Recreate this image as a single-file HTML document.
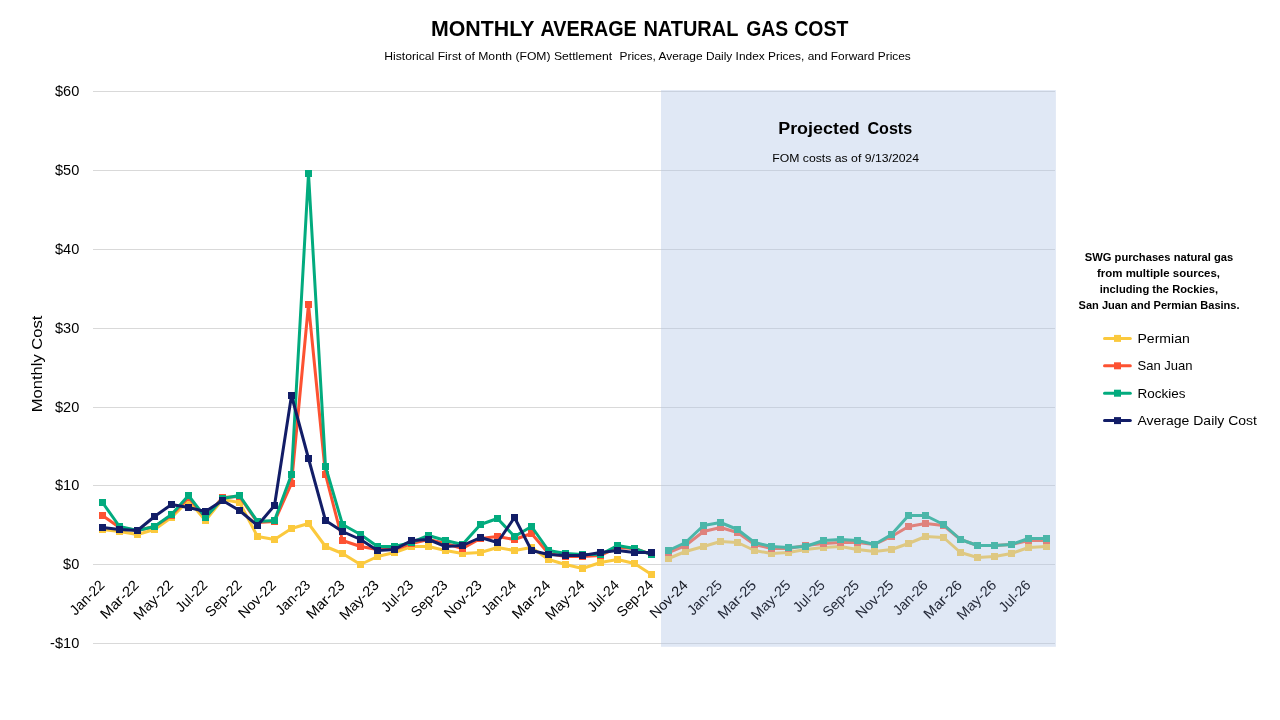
<!DOCTYPE html>
<html lang="en"><head><meta charset="utf-8"><title>Monthly Average Natural Gas Cost</title>
<style>html,body{margin:0;padding:0;background:#fff;width:1280px;height:720px;overflow:hidden}svg text{white-space:pre;font-family:"Liberation Sans",sans-serif}</style></head>
<body>
<svg width="1280" height="720" viewBox="0 0 1280 720" style="display:block">
<rect width="1280" height="720" fill="#fff"/>
<rect x="93" y="91" width="962" height="1" fill="#D9D9D9"/>
<rect x="93" y="170" width="962" height="1" fill="#D9D9D9"/>
<rect x="93" y="249" width="962" height="1" fill="#D9D9D9"/>
<rect x="93" y="328" width="962" height="1" fill="#D9D9D9"/>
<rect x="93" y="407" width="962" height="1" fill="#D9D9D9"/>
<rect x="93" y="485" width="962" height="1" fill="#D9D9D9"/>
<rect x="93" y="564" width="962" height="1" fill="#D9D9D9"/>
<rect x="93" y="643" width="962" height="1" fill="#D9D9D9"/>
<text x="79.3" y="96.30" text-anchor="end" font-size="14.3"  fill="#000" textLength="24.3" lengthAdjust="spacingAndGlyphs">$60</text>
<text x="79.3" y="175.30" text-anchor="end" font-size="14.3"  fill="#000" textLength="24.3" lengthAdjust="spacingAndGlyphs">$50</text>
<text x="79.3" y="254.30" text-anchor="end" font-size="14.3"  fill="#000" textLength="24.3" lengthAdjust="spacingAndGlyphs">$40</text>
<text x="79.3" y="333.30" text-anchor="end" font-size="14.3"  fill="#000" textLength="24.3" lengthAdjust="spacingAndGlyphs">$30</text>
<text x="79.3" y="412.30" text-anchor="end" font-size="14.3"  fill="#000" textLength="24.3" lengthAdjust="spacingAndGlyphs">$20</text>
<text x="79.3" y="490.30" text-anchor="end" font-size="14.3"  fill="#000" textLength="24.3" lengthAdjust="spacingAndGlyphs">$10</text>
<text x="79.3" y="569.30" text-anchor="end" font-size="14.3"  fill="#000" textLength="16.2" lengthAdjust="spacingAndGlyphs">$0</text>
<text x="79.3" y="648.30" text-anchor="end" font-size="14.3"  fill="#000" textLength="29.2" lengthAdjust="spacingAndGlyphs">-$10</text>
<polyline points="102.50,529.50 119.50,531.50 137.50,534.50 154.50,529.50 171.50,517.50 188.50,500.50 205.50,520.50 222.50,499.50 239.50,502.50 257.50,536.50 274.50,539.50 291.50,528.50 308.50,523.50 325.50,546.50 342.50,553.50 360.50,564.50 377.50,556.50 394.50,552.50 411.50,546.50 428.50,546.50 445.50,550.50 462.50,553.50 480.50,552.50 497.50,547.50 514.50,550.50 531.50,547.50 548.50,559.50 565.50,564.50 582.50,568.50 600.50,562.50 617.50,559.50 634.50,563.50 651.50,574.50" fill="none" stroke="#FBC93D" stroke-width="3" stroke-linejoin="round" stroke-linecap="round"/>
<polyline points="668.50,558.50 685.50,551.50 703.50,546.50 720.50,541.50 737.50,542.50 754.50,550.50 771.50,553.50 788.50,552.50 805.50,549.50 823.50,547.50 840.50,546.50 857.50,549.50 874.50,551.50 891.50,549.50 908.50,543.50 925.50,536.50 943.50,537.50 960.50,552.50 977.50,557.50 994.50,556.50 1011.50,553.50 1028.50,547.50 1046.50,546.50" fill="none" stroke="#FBC93D" stroke-width="3" stroke-linejoin="round" stroke-linecap="round"/>
<rect x="99.00" y="526.00" width="7" height="7" fill="#FBC93D"/>
<rect x="116.00" y="528.00" width="7" height="7" fill="#FBC93D"/>
<rect x="134.00" y="531.00" width="7" height="7" fill="#FBC93D"/>
<rect x="151.00" y="526.00" width="7" height="7" fill="#FBC93D"/>
<rect x="168.00" y="514.00" width="7" height="7" fill="#FBC93D"/>
<rect x="185.00" y="497.00" width="7" height="7" fill="#FBC93D"/>
<rect x="202.00" y="517.00" width="7" height="7" fill="#FBC93D"/>
<rect x="219.00" y="496.00" width="7" height="7" fill="#FBC93D"/>
<rect x="236.00" y="499.00" width="7" height="7" fill="#FBC93D"/>
<rect x="254.00" y="533.00" width="7" height="7" fill="#FBC93D"/>
<rect x="271.00" y="536.00" width="7" height="7" fill="#FBC93D"/>
<rect x="288.00" y="525.00" width="7" height="7" fill="#FBC93D"/>
<rect x="305.00" y="520.00" width="7" height="7" fill="#FBC93D"/>
<rect x="322.00" y="543.00" width="7" height="7" fill="#FBC93D"/>
<rect x="339.00" y="550.00" width="7" height="7" fill="#FBC93D"/>
<rect x="357.00" y="561.00" width="7" height="7" fill="#FBC93D"/>
<rect x="374.00" y="553.00" width="7" height="7" fill="#FBC93D"/>
<rect x="391.00" y="549.00" width="7" height="7" fill="#FBC93D"/>
<rect x="408.00" y="543.00" width="7" height="7" fill="#FBC93D"/>
<rect x="425.00" y="543.00" width="7" height="7" fill="#FBC93D"/>
<rect x="442.00" y="547.00" width="7" height="7" fill="#FBC93D"/>
<rect x="459.00" y="550.00" width="7" height="7" fill="#FBC93D"/>
<rect x="477.00" y="549.00" width="7" height="7" fill="#FBC93D"/>
<rect x="494.00" y="544.00" width="7" height="7" fill="#FBC93D"/>
<rect x="511.00" y="547.00" width="7" height="7" fill="#FBC93D"/>
<rect x="528.00" y="544.00" width="7" height="7" fill="#FBC93D"/>
<rect x="545.00" y="556.00" width="7" height="7" fill="#FBC93D"/>
<rect x="562.00" y="561.00" width="7" height="7" fill="#FBC93D"/>
<rect x="579.00" y="565.00" width="7" height="7" fill="#FBC93D"/>
<rect x="597.00" y="559.00" width="7" height="7" fill="#FBC93D"/>
<rect x="614.00" y="556.00" width="7" height="7" fill="#FBC93D"/>
<rect x="631.00" y="560.00" width="7" height="7" fill="#FBC93D"/>
<rect x="648.00" y="571.00" width="7" height="7" fill="#FBC93D"/>
<rect x="665.00" y="555.00" width="7" height="7" fill="#FBC93D"/>
<rect x="682.00" y="548.00" width="7" height="7" fill="#FBC93D"/>
<rect x="700.00" y="543.00" width="7" height="7" fill="#FBC93D"/>
<rect x="717.00" y="538.00" width="7" height="7" fill="#FBC93D"/>
<rect x="734.00" y="539.00" width="7" height="7" fill="#FBC93D"/>
<rect x="751.00" y="547.00" width="7" height="7" fill="#FBC93D"/>
<rect x="768.00" y="550.00" width="7" height="7" fill="#FBC93D"/>
<rect x="785.00" y="549.00" width="7" height="7" fill="#FBC93D"/>
<rect x="802.00" y="546.00" width="7" height="7" fill="#FBC93D"/>
<rect x="820.00" y="544.00" width="7" height="7" fill="#FBC93D"/>
<rect x="837.00" y="543.00" width="7" height="7" fill="#FBC93D"/>
<rect x="854.00" y="546.00" width="7" height="7" fill="#FBC93D"/>
<rect x="871.00" y="548.00" width="7" height="7" fill="#FBC93D"/>
<rect x="888.00" y="546.00" width="7" height="7" fill="#FBC93D"/>
<rect x="905.00" y="540.00" width="7" height="7" fill="#FBC93D"/>
<rect x="922.00" y="533.00" width="7" height="7" fill="#FBC93D"/>
<rect x="940.00" y="534.00" width="7" height="7" fill="#FBC93D"/>
<rect x="957.00" y="549.00" width="7" height="7" fill="#FBC93D"/>
<rect x="974.00" y="554.00" width="7" height="7" fill="#FBC93D"/>
<rect x="991.00" y="553.00" width="7" height="7" fill="#FBC93D"/>
<rect x="1008.00" y="550.00" width="7" height="7" fill="#FBC93D"/>
<rect x="1025.00" y="544.00" width="7" height="7" fill="#FBC93D"/>
<rect x="1043.00" y="543.00" width="7" height="7" fill="#FBC93D"/>
<polyline points="102.50,515.50 119.50,527.50 137.50,530.50 154.50,526.50 171.50,515.50 188.50,497.50 205.50,517.50 222.50,497.50 239.50,496.50 257.50,522.50 274.50,521.50 291.50,483.50 308.50,304.50 325.50,474.50 342.50,540.50 360.50,546.50 377.50,549.50 394.50,549.50 411.50,543.50 428.50,539.50 445.50,543.50 462.50,548.50 480.50,538.50 497.50,536.50 514.50,539.50 531.50,533.50 548.50,553.50 565.50,556.50 582.50,556.50 600.50,555.50 617.50,547.50 634.50,548.50 651.50,554.50" fill="none" stroke="#FD5232" stroke-width="3" stroke-linejoin="round" stroke-linecap="round"/>
<polyline points="668.50,552.50 685.50,545.50 703.50,531.50 720.50,527.50 737.50,532.50 754.50,544.50 771.50,548.50 788.50,548.50 805.50,545.50 823.50,543.50 840.50,542.50 857.50,542.50 874.50,544.50 891.50,536.50 908.50,526.50 925.50,523.50 943.50,525.50 960.50,539.50 977.50,545.50 994.50,545.50 1011.50,544.50 1028.50,540.50 1046.50,540.50" fill="none" stroke="#FD5232" stroke-width="3" stroke-linejoin="round" stroke-linecap="round"/>
<rect x="99.00" y="512.00" width="7" height="7" fill="#FD5232"/>
<rect x="116.00" y="524.00" width="7" height="7" fill="#FD5232"/>
<rect x="134.00" y="527.00" width="7" height="7" fill="#FD5232"/>
<rect x="151.00" y="523.00" width="7" height="7" fill="#FD5232"/>
<rect x="168.00" y="512.00" width="7" height="7" fill="#FD5232"/>
<rect x="185.00" y="494.00" width="7" height="7" fill="#FD5232"/>
<rect x="202.00" y="514.00" width="7" height="7" fill="#FD5232"/>
<rect x="219.00" y="494.00" width="7" height="7" fill="#FD5232"/>
<rect x="236.00" y="493.00" width="7" height="7" fill="#FD5232"/>
<rect x="254.00" y="519.00" width="7" height="7" fill="#FD5232"/>
<rect x="271.00" y="518.00" width="7" height="7" fill="#FD5232"/>
<rect x="288.00" y="480.00" width="7" height="7" fill="#FD5232"/>
<rect x="305.00" y="301.00" width="7" height="7" fill="#FD5232"/>
<rect x="322.00" y="471.00" width="7" height="7" fill="#FD5232"/>
<rect x="339.00" y="537.00" width="7" height="7" fill="#FD5232"/>
<rect x="357.00" y="543.00" width="7" height="7" fill="#FD5232"/>
<rect x="374.00" y="546.00" width="7" height="7" fill="#FD5232"/>
<rect x="391.00" y="546.00" width="7" height="7" fill="#FD5232"/>
<rect x="408.00" y="540.00" width="7" height="7" fill="#FD5232"/>
<rect x="425.00" y="536.00" width="7" height="7" fill="#FD5232"/>
<rect x="442.00" y="540.00" width="7" height="7" fill="#FD5232"/>
<rect x="459.00" y="545.00" width="7" height="7" fill="#FD5232"/>
<rect x="477.00" y="535.00" width="7" height="7" fill="#FD5232"/>
<rect x="494.00" y="533.00" width="7" height="7" fill="#FD5232"/>
<rect x="511.00" y="536.00" width="7" height="7" fill="#FD5232"/>
<rect x="528.00" y="530.00" width="7" height="7" fill="#FD5232"/>
<rect x="545.00" y="550.00" width="7" height="7" fill="#FD5232"/>
<rect x="562.00" y="553.00" width="7" height="7" fill="#FD5232"/>
<rect x="579.00" y="553.00" width="7" height="7" fill="#FD5232"/>
<rect x="597.00" y="552.00" width="7" height="7" fill="#FD5232"/>
<rect x="614.00" y="544.00" width="7" height="7" fill="#FD5232"/>
<rect x="631.00" y="545.00" width="7" height="7" fill="#FD5232"/>
<rect x="648.00" y="551.00" width="7" height="7" fill="#FD5232"/>
<rect x="665.00" y="549.00" width="7" height="7" fill="#FD5232"/>
<rect x="682.00" y="542.00" width="7" height="7" fill="#FD5232"/>
<rect x="700.00" y="528.00" width="7" height="7" fill="#FD5232"/>
<rect x="717.00" y="524.00" width="7" height="7" fill="#FD5232"/>
<rect x="734.00" y="529.00" width="7" height="7" fill="#FD5232"/>
<rect x="751.00" y="541.00" width="7" height="7" fill="#FD5232"/>
<rect x="768.00" y="545.00" width="7" height="7" fill="#FD5232"/>
<rect x="785.00" y="545.00" width="7" height="7" fill="#FD5232"/>
<rect x="802.00" y="542.00" width="7" height="7" fill="#FD5232"/>
<rect x="820.00" y="540.00" width="7" height="7" fill="#FD5232"/>
<rect x="837.00" y="539.00" width="7" height="7" fill="#FD5232"/>
<rect x="854.00" y="539.00" width="7" height="7" fill="#FD5232"/>
<rect x="871.00" y="541.00" width="7" height="7" fill="#FD5232"/>
<rect x="888.00" y="533.00" width="7" height="7" fill="#FD5232"/>
<rect x="905.00" y="523.00" width="7" height="7" fill="#FD5232"/>
<rect x="922.00" y="520.00" width="7" height="7" fill="#FD5232"/>
<rect x="940.00" y="522.00" width="7" height="7" fill="#FD5232"/>
<rect x="957.00" y="536.00" width="7" height="7" fill="#FD5232"/>
<rect x="974.00" y="542.00" width="7" height="7" fill="#FD5232"/>
<rect x="991.00" y="542.00" width="7" height="7" fill="#FD5232"/>
<rect x="1008.00" y="541.00" width="7" height="7" fill="#FD5232"/>
<rect x="1025.00" y="537.00" width="7" height="7" fill="#FD5232"/>
<rect x="1043.00" y="537.00" width="7" height="7" fill="#FD5232"/>
<polyline points="102.50,502.50 119.50,526.50 137.50,530.50 154.50,526.50 171.50,514.50 188.50,495.50 205.50,517.50 222.50,498.50 239.50,495.50 257.50,521.50 274.50,520.50 291.50,474.50 308.50,173.50 325.50,466.50 342.50,524.50 360.50,534.50 377.50,546.50 394.50,546.50 411.50,542.50 428.50,535.50 445.50,540.50 462.50,544.50 480.50,524.50 497.50,518.50 514.50,536.50 531.50,526.50 548.50,550.50 565.50,553.50 582.50,554.50 600.50,554.50 617.50,545.50 634.50,548.50 651.50,554.50" fill="none" stroke="#02AB7E" stroke-width="3" stroke-linejoin="round" stroke-linecap="round"/>
<polyline points="668.50,550.50 685.50,542.50 703.50,525.50 720.50,522.50 737.50,529.50 754.50,542.50 771.50,546.50 788.50,547.50 805.50,546.50 823.50,540.50 840.50,539.50 857.50,540.50 874.50,544.50 891.50,534.50 908.50,515.50 925.50,515.50 943.50,524.50 960.50,539.50 977.50,545.50 994.50,545.50 1011.50,544.50 1028.50,538.50 1046.50,538.50" fill="none" stroke="#02AB7E" stroke-width="3" stroke-linejoin="round" stroke-linecap="round"/>
<rect x="99.00" y="499.00" width="7" height="7" fill="#02AB7E"/>
<rect x="116.00" y="523.00" width="7" height="7" fill="#02AB7E"/>
<rect x="134.00" y="527.00" width="7" height="7" fill="#02AB7E"/>
<rect x="151.00" y="523.00" width="7" height="7" fill="#02AB7E"/>
<rect x="168.00" y="511.00" width="7" height="7" fill="#02AB7E"/>
<rect x="185.00" y="492.00" width="7" height="7" fill="#02AB7E"/>
<rect x="202.00" y="514.00" width="7" height="7" fill="#02AB7E"/>
<rect x="219.00" y="495.00" width="7" height="7" fill="#02AB7E"/>
<rect x="236.00" y="492.00" width="7" height="7" fill="#02AB7E"/>
<rect x="254.00" y="518.00" width="7" height="7" fill="#02AB7E"/>
<rect x="271.00" y="517.00" width="7" height="7" fill="#02AB7E"/>
<rect x="288.00" y="471.00" width="7" height="7" fill="#02AB7E"/>
<rect x="305.00" y="170.00" width="7" height="7" fill="#02AB7E"/>
<rect x="322.00" y="463.00" width="7" height="7" fill="#02AB7E"/>
<rect x="339.00" y="521.00" width="7" height="7" fill="#02AB7E"/>
<rect x="357.00" y="531.00" width="7" height="7" fill="#02AB7E"/>
<rect x="374.00" y="543.00" width="7" height="7" fill="#02AB7E"/>
<rect x="391.00" y="543.00" width="7" height="7" fill="#02AB7E"/>
<rect x="408.00" y="539.00" width="7" height="7" fill="#02AB7E"/>
<rect x="425.00" y="532.00" width="7" height="7" fill="#02AB7E"/>
<rect x="442.00" y="537.00" width="7" height="7" fill="#02AB7E"/>
<rect x="459.00" y="541.00" width="7" height="7" fill="#02AB7E"/>
<rect x="477.00" y="521.00" width="7" height="7" fill="#02AB7E"/>
<rect x="494.00" y="515.00" width="7" height="7" fill="#02AB7E"/>
<rect x="511.00" y="533.00" width="7" height="7" fill="#02AB7E"/>
<rect x="528.00" y="523.00" width="7" height="7" fill="#02AB7E"/>
<rect x="545.00" y="547.00" width="7" height="7" fill="#02AB7E"/>
<rect x="562.00" y="550.00" width="7" height="7" fill="#02AB7E"/>
<rect x="579.00" y="551.00" width="7" height="7" fill="#02AB7E"/>
<rect x="597.00" y="551.00" width="7" height="7" fill="#02AB7E"/>
<rect x="614.00" y="542.00" width="7" height="7" fill="#02AB7E"/>
<rect x="631.00" y="545.00" width="7" height="7" fill="#02AB7E"/>
<rect x="648.00" y="551.00" width="7" height="7" fill="#02AB7E"/>
<rect x="665.00" y="547.00" width="7" height="7" fill="#02AB7E"/>
<rect x="682.00" y="539.00" width="7" height="7" fill="#02AB7E"/>
<rect x="700.00" y="522.00" width="7" height="7" fill="#02AB7E"/>
<rect x="717.00" y="519.00" width="7" height="7" fill="#02AB7E"/>
<rect x="734.00" y="526.00" width="7" height="7" fill="#02AB7E"/>
<rect x="751.00" y="539.00" width="7" height="7" fill="#02AB7E"/>
<rect x="768.00" y="543.00" width="7" height="7" fill="#02AB7E"/>
<rect x="785.00" y="544.00" width="7" height="7" fill="#02AB7E"/>
<rect x="802.00" y="543.00" width="7" height="7" fill="#02AB7E"/>
<rect x="820.00" y="537.00" width="7" height="7" fill="#02AB7E"/>
<rect x="837.00" y="536.00" width="7" height="7" fill="#02AB7E"/>
<rect x="854.00" y="537.00" width="7" height="7" fill="#02AB7E"/>
<rect x="871.00" y="541.00" width="7" height="7" fill="#02AB7E"/>
<rect x="888.00" y="531.00" width="7" height="7" fill="#02AB7E"/>
<rect x="905.00" y="512.00" width="7" height="7" fill="#02AB7E"/>
<rect x="922.00" y="512.00" width="7" height="7" fill="#02AB7E"/>
<rect x="940.00" y="521.00" width="7" height="7" fill="#02AB7E"/>
<rect x="957.00" y="536.00" width="7" height="7" fill="#02AB7E"/>
<rect x="974.00" y="542.00" width="7" height="7" fill="#02AB7E"/>
<rect x="991.00" y="542.00" width="7" height="7" fill="#02AB7E"/>
<rect x="1008.00" y="541.00" width="7" height="7" fill="#02AB7E"/>
<rect x="1025.00" y="535.00" width="7" height="7" fill="#02AB7E"/>
<rect x="1043.00" y="535.00" width="7" height="7" fill="#02AB7E"/>
<polyline points="102.50,527.50 119.50,529.50 137.50,530.50 154.50,516.50 171.50,504.50 188.50,507.50 205.50,511.50 222.50,500.50 239.50,510.50 257.50,525.50 274.50,505.50 291.50,395.50 308.50,458.50 325.50,520.50 342.50,531.50 360.50,539.50 377.50,550.50 394.50,549.50 411.50,540.50 428.50,539.50 445.50,546.50 462.50,545.50 480.50,537.50 497.50,542.50 514.50,517.50 531.50,550.50 548.50,554.50 565.50,555.50 582.50,555.50 600.50,552.50 617.50,550.50 634.50,552.50 651.50,552.50" fill="none" stroke="#121D67" stroke-width="3" stroke-linejoin="round" stroke-linecap="round"/>
<rect x="99.00" y="524.00" width="7" height="7" fill="#121D67"/>
<rect x="116.00" y="526.00" width="7" height="7" fill="#121D67"/>
<rect x="134.00" y="527.00" width="7" height="7" fill="#121D67"/>
<rect x="151.00" y="513.00" width="7" height="7" fill="#121D67"/>
<rect x="168.00" y="501.00" width="7" height="7" fill="#121D67"/>
<rect x="185.00" y="504.00" width="7" height="7" fill="#121D67"/>
<rect x="202.00" y="508.00" width="7" height="7" fill="#121D67"/>
<rect x="219.00" y="497.00" width="7" height="7" fill="#121D67"/>
<rect x="236.00" y="507.00" width="7" height="7" fill="#121D67"/>
<rect x="254.00" y="522.00" width="7" height="7" fill="#121D67"/>
<rect x="271.00" y="502.00" width="7" height="7" fill="#121D67"/>
<rect x="288.00" y="392.00" width="7" height="7" fill="#121D67"/>
<rect x="305.00" y="455.00" width="7" height="7" fill="#121D67"/>
<rect x="322.00" y="517.00" width="7" height="7" fill="#121D67"/>
<rect x="339.00" y="528.00" width="7" height="7" fill="#121D67"/>
<rect x="357.00" y="536.00" width="7" height="7" fill="#121D67"/>
<rect x="374.00" y="547.00" width="7" height="7" fill="#121D67"/>
<rect x="391.00" y="546.00" width="7" height="7" fill="#121D67"/>
<rect x="408.00" y="537.00" width="7" height="7" fill="#121D67"/>
<rect x="425.00" y="536.00" width="7" height="7" fill="#121D67"/>
<rect x="442.00" y="543.00" width="7" height="7" fill="#121D67"/>
<rect x="459.00" y="542.00" width="7" height="7" fill="#121D67"/>
<rect x="477.00" y="534.00" width="7" height="7" fill="#121D67"/>
<rect x="494.00" y="539.00" width="7" height="7" fill="#121D67"/>
<rect x="511.00" y="514.00" width="7" height="7" fill="#121D67"/>
<rect x="528.00" y="547.00" width="7" height="7" fill="#121D67"/>
<rect x="545.00" y="551.00" width="7" height="7" fill="#121D67"/>
<rect x="562.00" y="552.00" width="7" height="7" fill="#121D67"/>
<rect x="579.00" y="552.00" width="7" height="7" fill="#121D67"/>
<rect x="597.00" y="549.00" width="7" height="7" fill="#121D67"/>
<rect x="614.00" y="547.00" width="7" height="7" fill="#121D67"/>
<rect x="631.00" y="549.00" width="7" height="7" fill="#121D67"/>
<rect x="648.00" y="549.00" width="7" height="7" fill="#121D67"/>
<rect x="661" y="90.1" width="394.9" height="556.7" fill="#B4C7E7" fill-opacity="0.41"/>
<text transform="translate(105.47,586.00) rotate(-45)" text-anchor="end" font-size="14.3"  fill="#000" textLength="42.3" lengthAdjust="spacingAndGlyphs">Jan-22</text>
<text transform="translate(139.77,586.00) rotate(-45)" text-anchor="end" font-size="14.3"  fill="#000" textLength="47.6" lengthAdjust="spacingAndGlyphs">Mar-22</text>
<text transform="translate(174.07,586.00) rotate(-45)" text-anchor="end" font-size="14.3"  fill="#000" textLength="49.1" lengthAdjust="spacingAndGlyphs">May-22</text>
<text transform="translate(208.37,586.00) rotate(-45)" text-anchor="end" font-size="14.3"  fill="#000" textLength="38.3" lengthAdjust="spacingAndGlyphs">Jul-22</text>
<text transform="translate(242.67,586.00) rotate(-45)" text-anchor="end" font-size="14.3"  fill="#000" textLength="44.8" lengthAdjust="spacingAndGlyphs">Sep-22</text>
<text transform="translate(276.97,586.00) rotate(-45)" text-anchor="end" font-size="14.3"  fill="#000" textLength="46.7" lengthAdjust="spacingAndGlyphs">Nov-22</text>
<text transform="translate(311.27,586.00) rotate(-45)" text-anchor="end" font-size="14.3"  fill="#000" textLength="42.3" lengthAdjust="spacingAndGlyphs">Jan-23</text>
<text transform="translate(345.57,586.00) rotate(-45)" text-anchor="end" font-size="14.3"  fill="#000" textLength="47.6" lengthAdjust="spacingAndGlyphs">Mar-23</text>
<text transform="translate(379.87,586.00) rotate(-45)" text-anchor="end" font-size="14.3"  fill="#000" textLength="49.1" lengthAdjust="spacingAndGlyphs">May-23</text>
<text transform="translate(414.17,586.00) rotate(-45)" text-anchor="end" font-size="14.3"  fill="#000" textLength="38.3" lengthAdjust="spacingAndGlyphs">Jul-23</text>
<text transform="translate(448.47,586.00) rotate(-45)" text-anchor="end" font-size="14.3"  fill="#000" textLength="44.8" lengthAdjust="spacingAndGlyphs">Sep-23</text>
<text transform="translate(482.77,586.00) rotate(-45)" text-anchor="end" font-size="14.3"  fill="#000" textLength="46.7" lengthAdjust="spacingAndGlyphs">Nov-23</text>
<text transform="translate(517.07,586.00) rotate(-45)" text-anchor="end" font-size="14.3"  fill="#000" textLength="42.3" lengthAdjust="spacingAndGlyphs">Jan-24</text>
<text transform="translate(551.37,586.00) rotate(-45)" text-anchor="end" font-size="14.3"  fill="#000" textLength="47.6" lengthAdjust="spacingAndGlyphs">Mar-24</text>
<text transform="translate(585.67,586.00) rotate(-45)" text-anchor="end" font-size="14.3"  fill="#000" textLength="49.1" lengthAdjust="spacingAndGlyphs">May-24</text>
<text transform="translate(619.97,586.00) rotate(-45)" text-anchor="end" font-size="14.3"  fill="#000" textLength="38.3" lengthAdjust="spacingAndGlyphs">Jul-24</text>
<text transform="translate(654.27,586.00) rotate(-45)" text-anchor="end" font-size="14.3"  fill="#000" textLength="44.8" lengthAdjust="spacingAndGlyphs">Sep-24</text>
<text transform="translate(688.57,586.00) rotate(-45)" text-anchor="end" font-size="14.3"  fill="#10131c" textLength="46.7" lengthAdjust="spacingAndGlyphs">Nov-24</text>
<text transform="translate(722.87,586.00) rotate(-45)" text-anchor="end" font-size="14.3"  fill="#262b3a" textLength="42.3" lengthAdjust="spacingAndGlyphs">Jan-25</text>
<text transform="translate(757.17,586.00) rotate(-45)" text-anchor="end" font-size="14.3"  fill="#262b3a" textLength="47.6" lengthAdjust="spacingAndGlyphs">Mar-25</text>
<text transform="translate(791.47,586.00) rotate(-45)" text-anchor="end" font-size="14.3"  fill="#262b3a" textLength="49.1" lengthAdjust="spacingAndGlyphs">May-25</text>
<text transform="translate(825.77,586.00) rotate(-45)" text-anchor="end" font-size="14.3"  fill="#262b3a" textLength="38.3" lengthAdjust="spacingAndGlyphs">Jul-25</text>
<text transform="translate(860.07,586.00) rotate(-45)" text-anchor="end" font-size="14.3"  fill="#262b3a" textLength="44.8" lengthAdjust="spacingAndGlyphs">Sep-25</text>
<text transform="translate(894.37,586.00) rotate(-45)" text-anchor="end" font-size="14.3"  fill="#262b3a" textLength="46.7" lengthAdjust="spacingAndGlyphs">Nov-25</text>
<text transform="translate(928.67,586.00) rotate(-45)" text-anchor="end" font-size="14.3"  fill="#262b3a" textLength="42.3" lengthAdjust="spacingAndGlyphs">Jan-26</text>
<text transform="translate(962.97,586.00) rotate(-45)" text-anchor="end" font-size="14.3"  fill="#262b3a" textLength="47.6" lengthAdjust="spacingAndGlyphs">Mar-26</text>
<text transform="translate(997.27,586.00) rotate(-45)" text-anchor="end" font-size="14.3"  fill="#262b3a" textLength="49.1" lengthAdjust="spacingAndGlyphs">May-26</text>
<text transform="translate(1031.57,586.00) rotate(-45)" text-anchor="end" font-size="14.3"  fill="#262b3a" textLength="38.3" lengthAdjust="spacingAndGlyphs">Jul-26</text>
<text transform="translate(42.2,412.2) rotate(-90)" font-size="14.8"  fill="#000" textLength="96.6" lengthAdjust="spacingAndGlyphs">Monthly Cost</text>
<text x="431.0" y="35.9" font-size="22.2"  font-weight="bold" fill="#000" textLength="103.5" lengthAdjust="spacingAndGlyphs" xml:space="preserve">MONTHLY</text>
<text x="540.5" y="35.9" font-size="22.2"  font-weight="bold" fill="#000" textLength="96.3" lengthAdjust="spacingAndGlyphs" xml:space="preserve">AVERAGE</text>
<text x="643.4" y="35.9" font-size="22.2"  font-weight="bold" fill="#000" textLength="95.0" lengthAdjust="spacingAndGlyphs" xml:space="preserve">NATURAL</text>
<text x="746.3" y="35.9" font-size="22.2"  font-weight="bold" fill="#000" textLength="42.0" lengthAdjust="spacingAndGlyphs" xml:space="preserve">GAS</text>
<text x="794.3" y="35.9" font-size="22.2"  font-weight="bold" fill="#000" textLength="54.0" lengthAdjust="spacingAndGlyphs" xml:space="preserve">COST</text>
<text x="384.3" y="59.6" font-size="10.9"  fill="#000" textLength="227.8" lengthAdjust="spacingAndGlyphs" xml:space="preserve">Historical First of Month (FOM) Settlement</text>
<text x="619.5" y="59.6" font-size="10.9"  fill="#000" textLength="291.3" lengthAdjust="spacingAndGlyphs" xml:space="preserve">Prices, Average Daily Index Prices, and Forward Prices</text>
<text x="778.2" y="133.5" font-size="16.8"  font-weight="bold" fill="#000" textLength="81.6" lengthAdjust="spacingAndGlyphs" xml:space="preserve">Projected</text>
<text x="867.4" y="133.5" font-size="16.8"  font-weight="bold" fill="#000" textLength="44.8" lengthAdjust="spacingAndGlyphs" xml:space="preserve">Costs</text>
<text x="772.2" y="161.9" font-size="11.6"  fill="#000" textLength="147.0" lengthAdjust="spacingAndGlyphs" xml:space="preserve">FOM costs as of 9/13/2024</text>
<text x="1084.8" y="260.8" font-size="10.6"  font-weight="bold" fill="#000" textLength="148.5" lengthAdjust="spacingAndGlyphs" xml:space="preserve">SWG purchases natural gas</text>
<text x="1097.0" y="276.7" font-size="10.6"  font-weight="bold" fill="#000" textLength="123.0" lengthAdjust="spacingAndGlyphs" xml:space="preserve">from multiple sources,</text>
<text x="1099.7" y="292.7" font-size="10.6"  font-weight="bold" fill="#000" textLength="118.3" lengthAdjust="spacingAndGlyphs" xml:space="preserve">including the Rockies,</text>
<text x="1078.6" y="308.75" font-size="10.6"  font-weight="bold" fill="#000" textLength="161.0" lengthAdjust="spacingAndGlyphs" xml:space="preserve">San Juan and Permian Basins.</text>
<line x1="1104.5" x2="1130.3" y1="338.40" y2="338.40" stroke="#FBC93D" stroke-width="3" stroke-linecap="round"/>
<rect x="1114.00" y="334.90" width="7" height="7" fill="#FBC93D"/>
<text x="1137.5" y="343.00" font-size="13.2"  fill="#000" textLength="52.3" lengthAdjust="spacingAndGlyphs" xml:space="preserve">Permian</text>
<line x1="1104.5" x2="1130.3" y1="365.80" y2="365.80" stroke="#FD5232" stroke-width="3" stroke-linecap="round"/>
<rect x="1114.00" y="362.30" width="7" height="7" fill="#FD5232"/>
<text x="1137.5" y="370.40" font-size="13.2"  fill="#000" textLength="55.0" lengthAdjust="spacingAndGlyphs" xml:space="preserve">San Juan</text>
<line x1="1104.5" x2="1130.3" y1="393.20" y2="393.20" stroke="#02AB7E" stroke-width="3" stroke-linecap="round"/>
<rect x="1114.00" y="389.70" width="7" height="7" fill="#02AB7E"/>
<text x="1137.5" y="397.80" font-size="13.2"  fill="#000" textLength="48.0" lengthAdjust="spacingAndGlyphs" xml:space="preserve">Rockies</text>
<line x1="1104.5" x2="1130.3" y1="420.60" y2="420.60" stroke="#121D67" stroke-width="3" stroke-linecap="round"/>
<rect x="1114.00" y="417.10" width="7" height="7" fill="#121D67"/>
<text x="1137.5" y="425.20" font-size="13.2"  fill="#000" textLength="119.5" lengthAdjust="spacingAndGlyphs" xml:space="preserve">Average Daily Cost</text>
</svg>
</body></html>
